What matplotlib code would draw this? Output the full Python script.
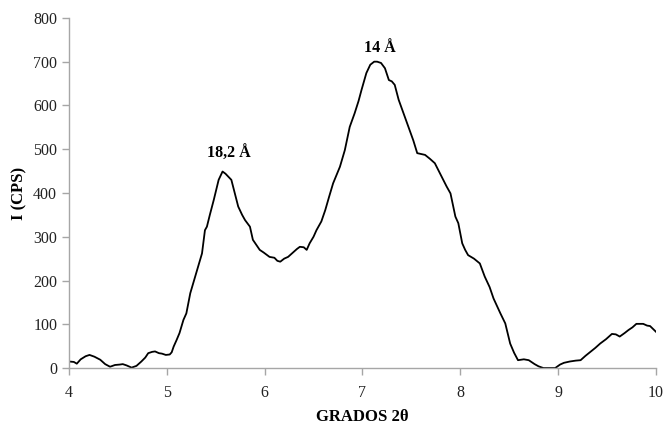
import matplotlib
matplotlib.use("Agg")
import matplotlib.pyplot as plt

# 2-theta (degrees) and intensity (CPS)
two_theta = [
    4.00, 4.05, 4.08, 4.12, 4.17, 4.21, 4.26, 4.32, 4.37, 4.42, 4.47, 4.52, 4.55,
    4.59, 4.64, 4.69, 4.74, 4.78, 4.81, 4.85, 4.88, 4.92, 4.95, 4.99, 5.03, 5.05,
    5.07, 5.10, 5.13, 5.17, 5.20, 5.24, 5.29, 5.34, 5.36, 5.39, 5.41, 5.44, 5.48,
    5.53, 5.57, 5.60, 5.66, 5.70, 5.73, 5.77, 5.80, 5.85, 5.88, 5.92, 5.95, 5.99,
    6.05, 6.10, 6.13, 6.16, 6.20, 6.24, 6.28, 6.33, 6.36, 6.40, 6.43, 6.46, 6.50,
    6.53, 6.58, 6.62, 6.66, 6.70, 6.77, 6.82, 6.87, 6.92, 6.96, 6.99, 7.04, 7.08,
    7.12, 7.15, 7.19, 7.23, 7.27, 7.30, 7.33, 7.37, 7.42, 7.47, 7.52, 7.56, 7.60,
    7.64, 7.69, 7.74, 7.81, 7.86, 7.90, 7.95, 7.98, 8.02, 8.05, 8.08, 8.14, 8.20,
    8.25, 8.30, 8.34, 8.41, 8.46, 8.51, 8.55, 8.59, 8.65, 8.70, 8.76, 8.80, 8.85,
    8.92, 8.97, 9.02, 9.06, 9.12, 9.18, 9.23, 9.28, 9.33, 9.38, 9.43, 9.49, 9.55,
    9.59, 9.63, 9.68, 9.72, 9.76, 9.80, 9.87, 9.91, 9.94, 10.00,
]
intensity = [
    15, 14, 10, 20, 27, 30, 26, 19, 9, 3, 7, 8, 9,
    6, 1, 5, 15, 24, 34, 37, 38, 34, 33, 30, 31, 36,
    49, 64, 80, 110, 125, 171, 209, 247, 262, 315, 323, 350, 384,
    430, 449, 444, 430, 395, 369, 350, 338, 323, 293, 280, 270, 264,
    254, 252, 245, 243, 250, 254, 262, 272, 277, 276, 270, 285, 300,
    315, 335, 361, 392, 422, 460, 498, 551, 582, 610, 635, 674, 693,
    700, 700, 697, 685, 658, 655, 647, 613, 582, 551, 520, 491, 489,
    487, 478, 468, 437, 415, 399, 346, 331, 285, 270, 258, 250, 239,
    209, 185, 159, 125, 102, 56, 35, 18, 20, 18, 9, 4, 0,
    0, 0, 8, 12, 15, 17, 18, 28, 37, 46, 56, 66, 78,
    77, 72, 80, 87, 93, 101, 101, 97, 96, 83,
]

peak_labels = ["18,2 Å", "14 Å"]
peak_pos = [(5.63, 490), (7.18, 731)]

plt.rcParams["font.family"] = ["Liberation Serif", "DejaVu Serif"]

fig = plt.figure(figsize=(6.67, 4.26), dpi=100)
ax = fig.add_axes([0.1034, 0.136, 0.880, 0.822])

ax.plot(two_theta, intensity, color="black", lw=1.3)

for lab, (x, y) in zip(peak_labels, peak_pos):
    ax.text(x, y, lab, ha="center", va="center", fontsize=11.5, fontweight="bold")

ax.set_xlim(4, 10)
ax.set_ylim(0, 800)
ax.set_xticks(range(4, 11))
ax.set_yticks(range(0, 801, 100))

grey = "#a6a6a6"
for side in ("top", "right"):
    ax.spines[side].set_visible(False)
for side in ("left", "bottom"):
    ax.spines[side].set_color(grey)
    ax.spines[side].set_linewidth(1.0)
ax.tick_params(axis="both", direction="out", length=5, width=1.0, color=grey,
               labelsize=11.5, labelcolor="#222222")
ax.tick_params(axis="x", pad=7)

ax.set_xlabel("GRADOS 2θ", fontsize=12, fontweight="bold", labelpad=6)
ax.set_ylabel("I (CPS)", fontsize=12, fontweight="bold", labelpad=4)

fig.savefig("out.png", dpi=100)
